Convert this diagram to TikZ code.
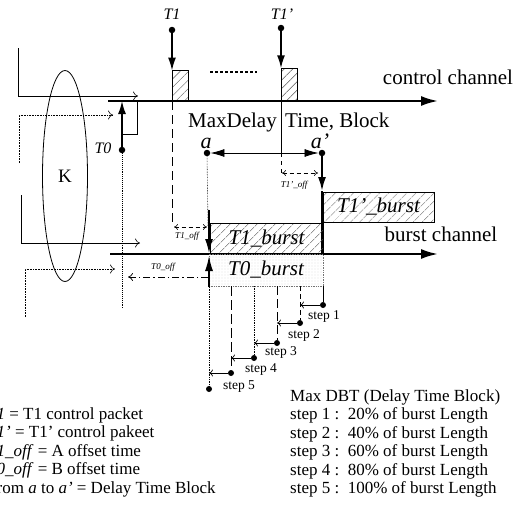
\documentclass[tikz,border=0pt]{standalone}
\usepackage{fontspec}
\setmainfont{Liberation Serif}
\usetikzlibrary{arrows.meta,patterns.meta,shapes.geometric}
\newcommand{\fsz}[1]{\fontsize{#1}{#1}\selectfont}
\begin{document}
\begin{tikzpicture}[x=1pt,y=-1pt,
  dotn/.style={circle,fill=black,inner sep=0pt,minimum size=6.5pt},
  sdot/.style={circle,fill=black,inner sep=0pt,minimum size=6pt},
  big/.style={inner sep=0pt,font=\fsz{21}},
  tlab/.style={inner sep=0pt,font=\fsz{16}\itshape,anchor=base},
  offlab/.style={inner sep=0pt,font=\fsz{9}\itshape},
  steplab/.style={inner sep=0pt,font=\fsz{13.5}},
  leg/.style={inner sep=0pt,font=\fsz{17},anchor=base west},
  arr/.style={line width=1.6pt,-{Latex[length=13pt,width=8pt]}},
  openarr/.style={line width=0.6pt,-{To[length=5pt,width=9pt]}},
  hbox/.style={draw,line width=0.7pt,pattern={Lines[angle=45,distance=6.5pt,line width=0.45pt]},pattern color=black!65,inner sep=0pt,font=\fsz{21}\itshape},
  dbox/.style={draw=black!55,densely dotted,line width=0.7pt,pattern={Dots[distance=3pt,radius=0.35pt]},pattern color=black!35,inner sep=0pt,font=\fsz{21}\itshape},
  pktbox/.style={draw,line width=0.7pt,pattern={Lines[angle=45,distance=6pt,line width=0.45pt]},pattern color=black!65,inner sep=0pt,minimum width=16pt,minimum height=30pt,anchor=south west},
  chan/.style={line width=2.3pt,-{Latex[length=17pt,width=10pt]}},
  longdash/.style={line width=0.9pt,dash pattern=on 9pt off 5pt},
  stepline/.style={line width=0.7pt},
  steparr/.style={line width=0.7pt,-{To[length=4pt,width=7pt]}}
]
\useasboundingbox (0,0) rectangle (524,506);
\clip (0,0) rectangle (524,506);

% ---------- channels ----------
\coordinate (cc0) at (108,101);
\coordinate (cc1) at (438,101);
\draw[chan] (cc0) -- (cc1);
\node[big,anchor=base] (cclab) at (448,84) {control channel};

\coordinate (bc0) at (110,254);
\coordinate (bc1) at (438,254);
\draw[chan] (bc0) -- (bc1);
\node[big,anchor=base] (bclab) at (441,241) {burst channel};

% ---------- control packets ----------
\node[tlab] (t1lab) at (172,19) {T1};
\node[dotn] (t1dot) at (172,30) {};
\node[pktbox] (t1box) at (172,101) {};
\draw[arr] (t1dot) -- (t1box.north west);

\node[tlab] (t1plab) at (282,19) {T1'};
\node[dotn] (t1pdot) at (281,28) {};
\node[pktbox,minimum height=32pt] (t1pbox) at (281,101) {};
\draw[arr] (t1pdot) -- (t1pbox.north west);

\coordinate (dd0) at (210,72);
\coordinate (dd1) at (257,72);
\draw[line width=1.1pt,dash pattern=on 2.5pt off 2.5pt] (dd0) -- (dd1);

% dashed guide lines from packets
\coordinate (t1end) at (172,226);
\draw[longdash] (t1box.south west) -- (t1end);
\coordinate (t1pmid) at (281,153);
\coordinate (t1pend) at (281,176);
\draw[line width=0.7pt] (t1pbox.south west) -- (t1pmid);
\draw[line width=0.7pt,dash pattern=on 4pt off 4pt] (t1pmid) -- (t1pend);

% ---------- MaxDelay Time Block ----------
\node[big,anchor=base east] (mdlab) at (277,127) {MaxDelay};
\node[big,anchor=base west] (tblab) at (285,127) {Time, Block};

\node[dotn] (adot) at (207,153) {};
\node[inner sep=0pt,font=\fsz{22}\itshape,anchor=base] (alab) at (206,148) {a};
\node[dotn] (apdot) at (322,153) {};
\node[inner sep=0pt,font=\fsz{22}\itshape,anchor=base] (aplab) at (320,148) {a'};
\draw[line width=0.8pt,{Latex[length=14pt,width=8pt]}-{Latex[length=14pt,width=8pt]}] (adot) -- (apdot);

% a' thick drop
\coordinate (apmid) at (322,191);
\coordinate (apend) at (322,254);
\draw[line width=2pt,-{Latex[length=14pt,width=8pt]}] (apdot) -- (apmid);
\draw[line width=2pt] (apmid) -- (apend);

% T1' offset
\coordinate (o1a) at (282,173);
\coordinate (o1b) at (318,173);
\draw[line width=0.6pt,dash pattern=on 4pt off 3pt,{To[length=4pt,width=6pt]}-{To[length=4pt,width=6pt]}] (o1a) -- (o1b);
\node[offlab] (o1lab) at (294,185) {T1'\_off};

% ---------- bursts ----------
\node[hbox,minimum width=111pt,minimum height=30pt] (t1pb) at (378.5,207) {T1'\_burst};
\node[hbox,minimum width=113pt,minimum height=30pt] (t1b) at (266.5,238.5) {T1\_burst};
\node[dbox,minimum width=114pt,minimum height=32pt] (t0b) at (266,270) {T0\_burst};

% a drop and T0 rise
\coordinate (adrop) at (208,226);
\draw[line width=0.6pt,densely dotted] (adot) -- (adrop);
\coordinate (a1) at (209,210);
\coordinate (a2) at (209,253);
\draw[line width=1.3pt,-{Latex[length=14pt,width=8pt]}] (a1) -- (a2);
\coordinate (u1) at (209,287);
\coordinate (u2) at (209,256);
\draw[line width=1.3pt,-{Latex[length=15pt,width=8pt]}] (u1) -- (u2);

% T1 offset
\coordinate (o2a) at (174,227);
\coordinate (o2b) at (207,227);
\draw[line width=0.6pt,dash pattern=on 4pt off 3pt,{To[length=4pt,width=6pt]}-{To[length=4pt,width=6pt]}] (o2a) -- (o2b);
\node[offlab] (o2lab) at (187,236) {T1\_off};

% ---------- T0 ----------
\node[tlab] (t0lab) at (103,153) {T0};
\node[dotn] (t0dot) at (122,150) {};
\coordinate (t0top) at (122,101);
\draw[arr] (t0dot) -- (t0top);
\coordinate (rb1) at (122,134);
\coordinate (rb2) at (137,134);
\coordinate (rb3) at (137,101);
\draw[line width=0.7pt] (rb1) -- (rb2) -- (rb3);
\coordinate (t0low) at (122,308);
\draw[line width=0.9pt,densely dotted] (t0dot) -- (t0low);

% T0 offset
\coordinate (o3a) at (208,277);
\coordinate (o3b) at (128,277);
\draw[line width=0.7pt,dash pattern=on 7pt off 3pt on 1.5pt off 3pt,-{To[length=5pt,width=8pt]}] (o3a) -- (o3b);
\node[offlab] (o3lab) at (163,267) {T0\_off};

% ---------- left brackets and K ----------
\coordinate (l1a) at (18,48);
\coordinate (l1b) at (138,96);
\draw[openarr] (l1a) |- (l1b);
\coordinate (l2a) at (19,163);
\coordinate (l2b) at (113,115);
\draw[openarr,densely dotted] (l2a) |- (l2b);
\coordinate (l3a) at (21,195);
\coordinate (l3b) at (140,243);
\draw[openarr] (l3a) |- (l3b);
\coordinate (l4a) at (25,317);
\coordinate (l4b) at (115,269);
\draw[openarr,densely dotted] (l4a) |- (l4b);

\node[draw,ellipse,line width=0.8pt,minimum width=45pt,minimum height=211pt,inner sep=0pt,font=\fsz{19}] (k) at (65,176) {K};

% ---------- steps ----------
\node[sdot] (s1) at (323,305) {};
\node[sdot] (s2) at (300,323) {};
\node[sdot] (s3) at (277,343) {};
\node[sdot] (s4) at (254,358) {};
\node[sdot] (s5) at (231,373) {};
\node[sdot] (s6) at (209,389) {};
\coordinate (v1) at (323,286);
\coordinate (v2) at (300,286);
\coordinate (v3) at (277,286);
\coordinate (v4) at (254,286);
\coordinate (v5) at (231,286);
\draw[stepline] (v1) -- (s1);
\draw[stepline,dash pattern=on 5pt off 3pt] (v2) -- (s2);
\draw[stepline,dash pattern=on 9pt off 4pt] (v3) -- (s3);
\draw[stepline,densely dotted] (v4) -- (s4);
\draw[stepline,dash pattern=on 10pt off 4pt] (v5) -- (s5);
\draw[stepline,densely dotted] (u1) -- (s6);
\coordinate (h1) at (300,305);
\coordinate (h2) at (277,323);
\coordinate (h3) at (254,343);
\coordinate (h4) at (231,358);
\coordinate (h5) at (209,373);
\draw[steparr] (s1) -- (h1);
\draw[steparr] (s2) -- (h2);
\draw[steparr] (s3) -- (h3);
\draw[steparr] (s4) -- (h4);
\draw[steparr] (s5) -- (h5);
\node[steplab] (sl1) at (324,316) {step 1};
\node[steplab] (sl2) at (304,335) {step 2};
\node[steplab] (sl3) at (281,352) {step 3};
\node[steplab] (sl4) at (261,369) {step 4};
\node[steplab] (sl5) at (239,387) {step 5};

% ---------- legends ----------
\node[leg] (lg1) at (-13,419) {\textit{T1} = T1 control packet};
\node[leg] (lg2) at (-13,437.5) {\textit{T1'} = T1' control pakeet};
\node[leg] (lg3) at (-13,456) {\textit{T1\_off} = A offset time};
\node[leg] (lg4) at (-13,474.5) {\textit{T0\_off} = B offset time};
\node[leg] (lg5) at (-13,493) {From \textit{a} to \textit{a'} = Delay Time Block};

\node[leg] (rg0) at (290,401) {Max DBT (Delay Time Block)};
\node[leg] (rg1) at (290,419.5) {step 1 :\ \ 20\% of burst Length};
\node[leg] (rg2) at (290,438) {step 2 :\ \ 40\% of burst Length};
\node[leg] (rg3) at (290,456.5) {step 3 :\ \ 60\% of burst Length};
\node[leg] (rg4) at (290,475) {step 4 :\ \ 80\% of burst Length};
\node[leg] (rg5) at (290,493.5) {step 5 :\ \ 100\% of burst Length};
\end{tikzpicture}
\end{document}
